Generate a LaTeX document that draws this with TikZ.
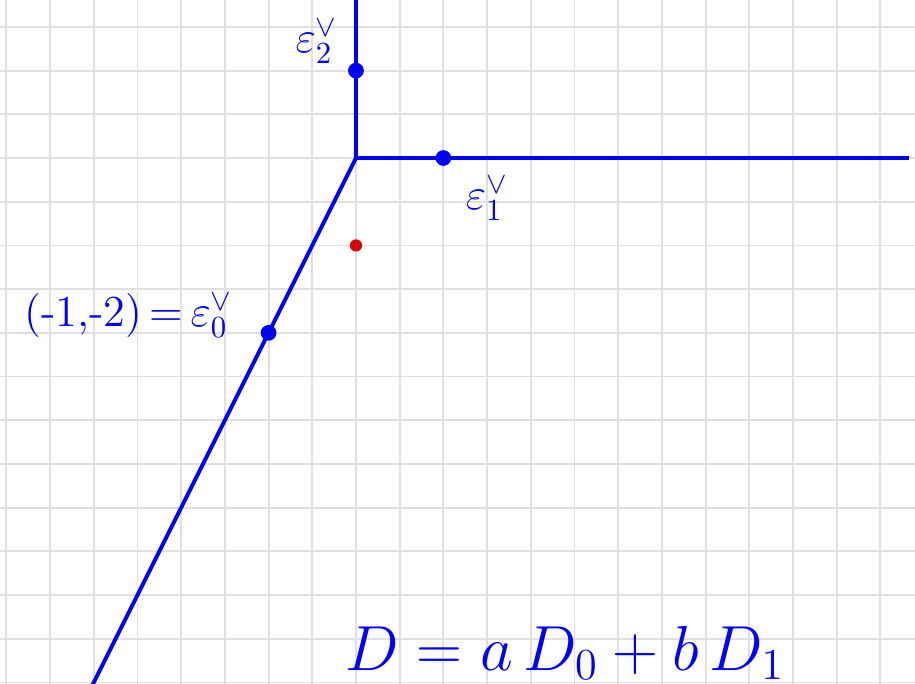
\documentclass[tikz,border=0pt]{standalone}
\usepackage{xcolor}

\begin{document}
\begin{tikzpicture}[
  ray/.style={
    draw=blue, line width=1.3pt
  },
  dot/.style={
    circle, fill=#1, inner sep=0pt, minimum size=1.8mm
  },
  lbl/.style={
    text=blue, font=\Large, inner sep=0pt
  }
]

% Paper and grid
\clip (-4.073,-6.018) rectangle (6.396,1.808);
\fill[white] (-4.073,-6.018) rectangle (6.396,1.808);
\draw[black!12, line width=0.6pt, step=0.5] (-4.5,-6.5) grid (6.5,2);

% Rays
\coordinate (O) at (0,0);
\coordinate (up) at (0,2);
\coordinate (east) at (6.33,0);
\coordinate (sw) at (-3.1,-6.2);
\draw[ray] (O) -- (up);
\draw[ray] (O) -- (east);
\draw[ray] (O) -- (sw);

% Dual vectors
\node[dot=blue] (e2) at (0,1) {};
\node[dot=blue] (e1) at (1,0) {};
\node[dot=blue] (e0) at (-1,-2) {};
\node[dot=red!85!black, minimum size=1.4mm] (p) at (0,-1) {};

% Labels
\node[lbl] (e2lbl) at (-0.45,1.33) {$\varepsilon_2^{\vee}$};
\node[lbl] (e1lbl) at (1.5,-0.46) {$\varepsilon_1^{\vee}$};
\node[lbl, anchor=east] (e0lbl) at (-1.4,-1.8) {(-1,-2)\,=\,$\varepsilon_0^{\vee}$};
\node[lbl, font=\fontsize{21}{25}\selectfont, anchor=base west] (dlbl) at (-0.13,-5.86) {$D = a\,D_0 + b\,D_1$};

\end{tikzpicture}
\end{document}
